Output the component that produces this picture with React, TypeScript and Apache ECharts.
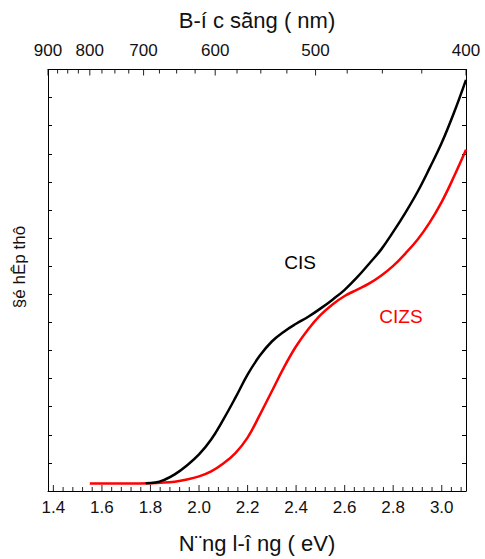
import React, { useEffect, useRef } from "react";
import * as echarts from "echarts";

const energyCIS = [1.78, 1.82, 1.86, 1.9, 1.95, 2.0, 2.05, 2.1, 2.15, 2.2, 2.25, 2.3, 2.35, 2.4, 2.45, 2.5, 2.55, 2.6, 2.65, 2.7, 2.75, 2.8, 2.85, 2.9, 2.95, 3.0, 3.05, 3.1];
const absCIS = [0.028, 0.03, 0.041, 0.059, 0.091, 0.13, 0.183, 0.254, 0.332, 0.414, 0.481, 0.532, 0.567, 0.595, 0.62, 0.649, 0.681, 0.716, 0.759, 0.808, 0.859, 0.922, 0.99, 1.064, 1.149, 1.239, 1.345, 1.463];

const energyCIZS = [1.55, 1.7, 1.8, 1.9, 1.95, 2.0, 2.05, 2.1, 2.15, 2.2, 2.25, 2.3, 2.35, 2.4, 2.45, 2.5, 2.55, 2.6, 2.65, 2.7, 2.75, 2.8, 2.85, 2.9, 2.95, 3.0, 3.05, 3.1];
const absCIZS = [0.027, 0.027, 0.028, 0.033, 0.041, 0.052, 0.07, 0.098, 0.135, 0.19, 0.27, 0.355, 0.44, 0.515, 0.576, 0.626, 0.664, 0.694, 0.716, 0.738, 0.766, 0.801, 0.845, 0.894, 0.955, 1.029, 1.118, 1.214];

const energyTicks = [1.4, 1.6, 1.8, 2.0, 2.2, 2.4, 2.6, 2.8, 3.0];
const wavelengthTicks = [900, 800, 700, 600, 500, 400];

const E_MIN = 1240 / 900;
const E_MAX = 3.1;
const Y_MAX = 1.5;

export default function App() {
  const ref = useRef<HTMLDivElement>(null);
  useEffect(() => {
    if (!ref.current) return;
    const chart = echarts.init(ref.current, null, { renderer: "svg" });
    const font = "Liberation Sans, Arial, sans-serif";

    const bottomMinor: number[] = [];
    for (let k = 0; k <= 42; k++) {
      const v = Math.round((1.4 + k * 0.04) * 100) / 100;
      if (v <= E_MAX && !energyTicks.some((t) => Math.abs(t - v) < 1e-6)) bottomMinor.push(v);
    }
    const topMinor: number[] = [];
    for (let w = 900; w >= 400; w -= 25) if (w % 100 !== 0) topMinor.push(1240 / w);

    const line = () => ({ show: true, onZero: false, lineStyle: { color: "#000", width: 1 } });
    const tickSeries = (pts: number[][], len: number, dir: number) => ({
      type: "scatter",
      xAxisIndex: 0,
      yAxisIndex: 0,
      silent: true,
      clip: false,
      symbol: "rect",
      symbolSize: [1.1, len],
      symbolOffset: [0, (dir * len) / 2],
      itemStyle: { color: "#000" },
      data: pts,
      z: 5,
    });

    chart.setOption({
      animation: false,
      backgroundColor: "#fff",
      grid: { left: 48, right: 19, top: 69.5, bottom: 67.5, containLabel: false },
      xAxis: [
        {
          type: "value",
          position: "bottom",
          min: E_MIN,
          max: E_MAX,
          axisLine: line(),
          splitLine: { show: false },
          axisTick: { show: false },
          axisLabel: {
            show: true,
            customValues: energyTicks,
            formatter: (v: number) => v.toFixed(1),
            fontSize: 17,
            fontFamily: font,
            color: "#111",
            margin: 8,
          },
          name: "N¨ng l-î ng ( eV)",
          nameLocation: "middle",
          nameGap: 41,
          nameTextStyle: { fontSize: 22, fontFamily: font, color: "#111", verticalAlign: "top" },
        },
        {
          type: "value",
          position: "top",
          min: E_MIN,
          max: E_MAX,
          axisLine: line(),
          splitLine: { show: false },
          axisTick: { show: false },
          axisLabel: {
            show: true,
            customValues: wavelengthTicks.map((w) => 1240 / w),
            formatter: (v: number) => String(Math.round(1240 / v)),
            fontSize: 17,
            fontFamily: font,
            color: "#111",
            margin: 11,
          },
          name: "B-í c sãng ( nm)",
          nameLocation: "middle",
          nameGap: 38,
          nameTextStyle: { fontSize: 22, fontFamily: font, color: "#111", verticalAlign: "bottom" },
        },
      ],
      yAxis: [
        {
          type: "value",
          position: "left",
          min: 0,
          max: Y_MAX,
          interval: 0.1,
          axisLine: line(),
          splitLine: { show: false },
          axisTick: { show: true, inside: true, length: 4, lineStyle: { color: "#000", width: 1 } },
          axisLabel: { show: false },
        },
        {
          type: "value",
          position: "right",
          min: 0,
          max: Y_MAX,
          interval: 0.1,
          axisLine: line(),
          splitLine: { show: false },
          axisTick: { show: true, inside: true, length: 4, lineStyle: { color: "#000", width: 1 } },
          axisLabel: { show: false },
        },
      ],
      graphic: [
        {
          type: "text",
          x: 19,
          y: 267,
          rotation: Math.PI / 2,
          style: { text: "§é hÊp thô", fontSize: 17, fontFamily: font, fill: "#111", align: "center", verticalAlign: "middle" },
        },
        {
          type: "text",
          x: 300,
          y: 262,
          style: { text: "CIS", fontSize: 19, fontFamily: font, fill: "#000", align: "center", verticalAlign: "middle" },
        },
        {
          type: "text",
          x: 401,
          y: 316,
          style: { text: "CIZS", fontSize: 19, fontFamily: font, fill: "#ff0000", align: "center", verticalAlign: "middle" },
        },
      ],
      series: [
        tickSeries(energyTicks.map((e) => [e, 0]), 6, -1),
        tickSeries(bottomMinor.map((e) => [e, 0]), 4, -1),
        tickSeries(wavelengthTicks.map((w) => [1240 / w, Y_MAX]), 6, 1),
        tickSeries(topMinor.map((e) => [e, Y_MAX]), 4, 1),
        {
          name: "CIZS",
          type: "line",
          xAxisIndex: 0,
          yAxisIndex: 0,
          smooth: 0.4,
          showSymbol: false,
          lineStyle: { color: "#ff0000", width: 2.5 },
          data: energyCIZS.map((e, i) => [e, absCIZS[i]]),
        },
        {
          name: "CIS",
          type: "line",
          xAxisIndex: 0,
          yAxisIndex: 0,
          smooth: 0.4,
          showSymbol: false,
          lineStyle: { color: "#000", width: 2.5 },
          data: energyCIS.map((e, i) => [e, absCIS[i]]),
        },
      ],
    });
    return () => chart.dispose();
  }, []);
  return (
    <div style={{ position: "fixed", left: 0, top: 0, width: 485, height: 559, overflow: "hidden", background: "#fff" }}>
      <div ref={ref} style={{ width: 485, height: 559 }} />
    </div>
  );
}
